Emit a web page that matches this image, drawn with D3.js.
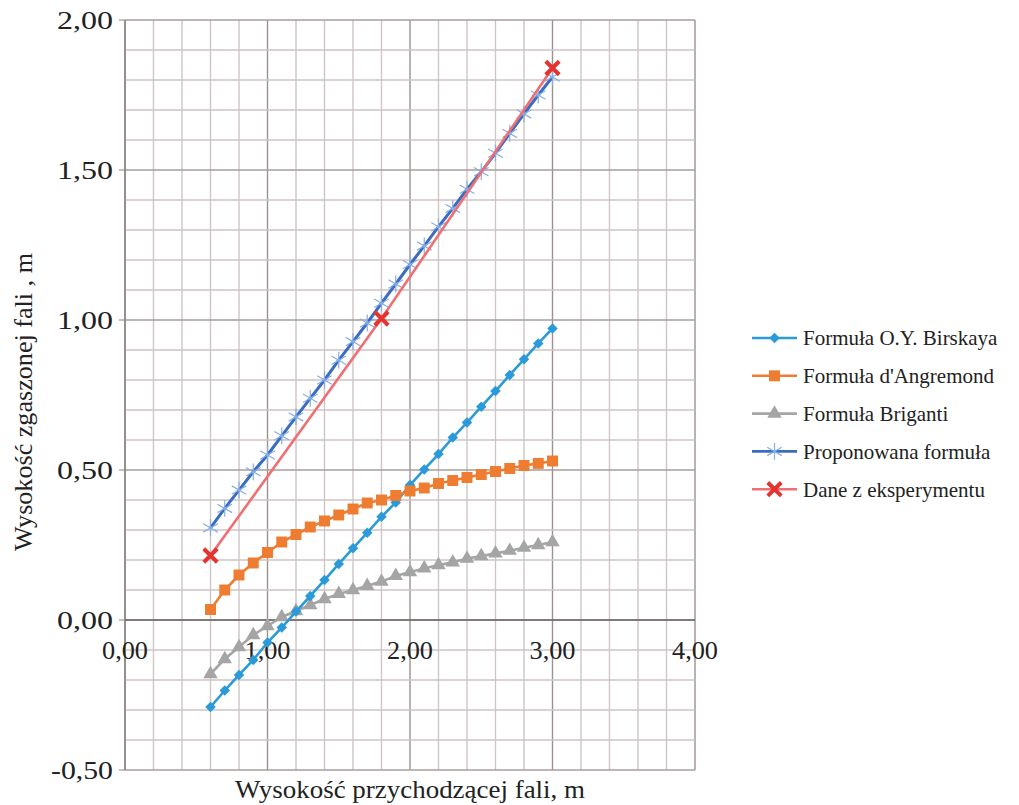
<!DOCTYPE html>
<html><head><meta charset="utf-8">
<script src="https://cdn.jsdelivr.net/npm/d3@7"></script>
<style>body{margin:0;background:#fff}svg{display:block}</style>
</head><body>
<svg id="c" width="1019" height="805"></svg>
<script>
const xs = [0.6,0.7,0.8,0.9,1.0,1.1,1.2,1.3,1.4,1.5,1.6,1.7,1.8,1.9,2.0,2.1,2.2,2.3,2.4,2.5,2.6,2.7,2.8,2.9,3.0];
const birskaya = [-0.29,-0.235,-0.183,-0.133,-0.075,-0.025,0.028,0.08,0.133,0.187,0.239,0.291,0.344,0.392,0.45,0.502,0.553,0.608,0.658,0.711,0.763,0.817,0.869,0.922,0.972];
const angremond = [0.035,0.10,0.15,0.19,0.225,0.26,0.285,0.31,0.33,0.35,0.37,0.39,0.40,0.415,0.43,0.44,0.455,0.465,0.475,0.485,0.495,0.505,0.515,0.522,0.53];
const briganti = [-0.18,-0.13,-0.09,-0.05,-0.02,0.01,0.03,0.05,0.07,0.087,0.10,0.114,0.128,0.147,0.16,0.172,0.183,0.192,0.205,0.213,0.222,0.231,0.241,0.25,0.26];
const proponowana = [0.307,0.372,0.433,0.494,0.55,0.614,0.677,0.739,0.80,0.866,0.928,0.99,1.056,1.12,1.185,1.247,1.311,1.372,1.436,1.494,1.556,1.622,1.687,1.75,1.81];
const expX = [0.6,1.8,3.0];
const expY = [0.215,1.005,1.84];
const xTicks = [0,1,2,3,4];
const yTicks = [-0.5,0,0.5,1,1.5,2];
const seriesNames = ["Formuła O.Y. Birskaya","Formuła d'Angremond","Formuła Briganti","Proponowana formuła","Dane z eksperymentu"];
const xTitle = "Wysokość przychodzącej fali, m";
const yTitle = "Wysokość zgaszonej fali , m";

const svg = d3.select("#c");
const L=125,R=695,T=20,B=770;
const x = d3.scaleLinear().domain([0,4]).range([L,R]);
const y = d3.scaleLinear().domain([-0.5,2]).range([B,T]);
const fmt = v => d3.format(".2f")(v).replace(".",",").replace("\u2212","-");
const font = "Liberation Serif, Times New Roman, serif";

// grid
const g = svg.append("g");
const xMinor = d3.range(0,4.0001,0.2), yMinor = d3.range(-0.5,2.0001,0.1);
g.selectAll(".vx").data(xMinor).join("line")
  .attr("x1",d=>x(d)).attr("x2",d=>x(d)).attr("y1",T).attr("y2",B)
  .attr("stroke",d=>Math.abs(d-Math.round(d))<1e-6?"#9c9090":"#cfc5c5").attr("stroke-width",1.4);
g.selectAll(".hy").data(yMinor).join("line")
  .attr("y1",d=>y(d)).attr("y2",d=>y(d)).attr("x1",L).attr("x2",R)
  .attr("stroke",d=>Math.abs(d*2-Math.round(d*2))<1e-6?"#a89c9c":"#cfc5c5").attr("stroke-width",1.4);

// axes
svg.append("line").attr("x1",L).attr("x2",L).attr("y1",T).attr("y2",B).attr("stroke","#8a8080").attr("stroke-width",1.4);
svg.append("line").attr("x1",L).attr("x2",R).attr("y1",y(0)).attr("y2",y(0)).attr("stroke","#6e6666").attr("stroke-width",1.4);
svg.selectAll(".yt").data(yTicks).join("line").attr("x1",L-6).attr("x2",L).attr("y1",d=>y(d)).attr("y2",d=>y(d)).attr("stroke","#8a8080");
svg.selectAll(".yl").data(yTicks).join("text").attr("x",L-12).attr("y",d=>y(d)).attr("dy","0.35em")
  .attr("text-anchor","end").attr("font-family",font).attr("font-size",26).attr("fill","#222")
  .attr("textLength",d=>d<0?62:56).attr("lengthAdjust","spacingAndGlyphs").text(fmt);
svg.selectAll(".xl").data(xTicks).join("text").attr("x",d=>x(d)).attr("y",y(0)+30).attr("dy","0.35em")
  .attr("text-anchor","middle").attr("font-family",font).attr("font-size",25).attr("fill","#222")
  .attr("textLength",46).attr("lengthAdjust","spacingAndGlyphs").text(fmt);
svg.append("text").attr("x",410).attr("y",798).attr("text-anchor","middle").attr("font-family",font)
  .attr("font-size",26).attr("fill","#222").attr("textLength",350).attr("lengthAdjust","spacingAndGlyphs").text(xTitle);
svg.append("text").attr("transform","translate(32,402) rotate(-90)").attr("text-anchor","middle").attr("font-family",font)
  .attr("font-size",26).attr("fill","#222").attr("textLength",298).attr("lengthAdjust","spacingAndGlyphs").text(yTitle);

// series
const colors = ["#2b9ad9","#ee7d31","#a5a5a5","#3a6cbf","#ef6f72"];
const datasets = [
  xs.map((v,i)=>[v,birskaya[i]]),
  xs.map((v,i)=>[v,angremond[i]]),
  xs.map((v,i)=>[v,briganti[i]]),
  xs.map((v,i)=>[v,proponowana[i]]),
  expX.map((v,i)=>[v,expY[i]])
];
const line = d3.line().x(d=>x(d[0])).y(d=>y(d[1]));
const sym = [d3.symbolDiamond2,d3.symbolSquare,d3.symbolTriangle,d3.symbolAsterisk,d3.symbolX];
const symSize = [70,120,90,200,120];
function marker(sel,i){
  const p = sel.append("path").attr("d",d3.symbol(sym[i],symSize[i])());
  if(i===0) p.attr("fill",colors[0]);
  else if(i===1) p.attr("fill",colors[1]);
  else if(i===2) p.attr("fill",colors[2]);
  else if(i===3) p.attr("fill","none").attr("stroke","#86aee6").attr("stroke-width",1.2);
  else p.attr("fill","none").attr("stroke","#e5332f").attr("stroke-width",4);
}
const order=[2,0,1,3,4];
order.forEach(i=>{
  svg.append("path").datum(datasets[i]).attr("d",line).attr("fill","none").attr("stroke",colors[i]).attr("stroke-width",i===3?3:2.6);
  datasets[i].forEach(d=>{
    const m = svg.append("g").attr("transform",`translate(${x(d[0])},${y(d[1])})`);
    marker(m,i);
  });
});

// legend
const ly0=338, ldy=37.8;
seriesNames.forEach((n,i)=>{
  const yy = ly0+i*ldy;
  svg.append("line").attr("x1",752).attr("x2",797).attr("y1",yy).attr("y2",yy).attr("stroke",colors[i]).attr("stroke-width",2.6);
  const m = svg.append("g").attr("transform",`translate(774.5,${yy})`);
  marker(m,i);
  svg.append("text").attr("x",803).attr("y",yy).attr("dy","0.35em").attr("font-family",font).attr("font-size",21).attr("fill","#222").text(n);
});
</script>
</body></html>
